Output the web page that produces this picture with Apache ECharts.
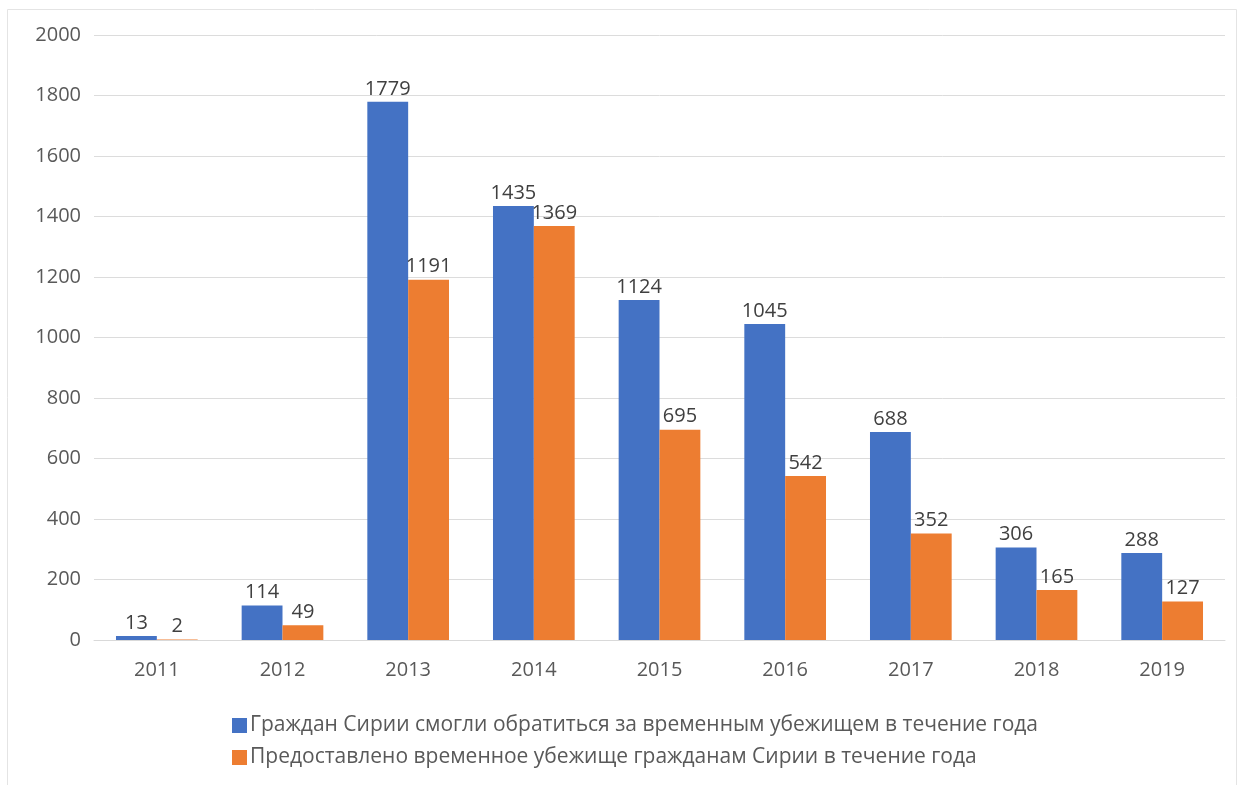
<!DOCTYPE html>
<html><head><meta charset="utf-8">
<script src="https://cdn.jsdelivr.net/npm/echarts@6/dist/echarts.min.js"></script>
<style>html,body{margin:0;padding:0;background:#fff}#c{width:1240px;height:785px}</style>
</head><body><div id="c"></div>
<script>
const categories = ['2011','2012','2013','2014','2015','2016','2017','2018','2019'];
const appliedValues = [13,114,1779,1435,1124,1045,688,306,288];
const grantedValues = [2,49,1191,1369,695,542,352,165,127];
const seriesNames = ['Граждан Сирии смогли обратиться за временным убежищем в течение года','Предоставлено временное убежище гражданам Сирии в течение года'];
const yTicks = {min:0,max:2000,interval:200};

const chart = echarts.init(document.getElementById('c'));
const font = '"Open Sans", "Noto Sans", sans-serif';
const lbl = {show:true,position:'top',distance:3,color:'#404040',fontSize:20,fontFamily:font};
chart.setOption({
  backgroundColor:'#fff',
  animation:false,
  graphic:[{type:'rect',shape:{x:7.5,y:9.5,width:1229,height:790},style:{fill:'none',stroke:'#e4e4e4',lineWidth:1}}],
  grid:{left:94,right:15,top:35,bottom:145},
  legend:{orient:'vertical',left:227,top:710,itemWidth:15,itemHeight:15,itemGap:11,
    icon:'rect',textStyle:{color:'#595959',fontSize:21,fontFamily:font,padding:[0,0,0,-2]},
    data:seriesNames},
  xAxis:{type:'category',data:categories,
    axisLine:{lineStyle:{color:'#d9d9d9'}},axisTick:{show:false},
    axisLabel:{color:'#595959',fontSize:20,fontFamily:font,margin:20}},
  yAxis:{type:'value',min:yTicks.min,max:yTicks.max,interval:yTicks.interval,
    axisLine:{show:false},axisTick:{show:false},
    splitLine:{lineStyle:{color:'#dcdcdc',width:1}},
    axisLabel:{color:'#595959',fontSize:20,fontFamily:font,margin:13,align:'right',formatter:v=>String(v)}},
  series:[
    {name:seriesNames[0],type:'bar',data:appliedValues,barGap:'0%',barCategoryGap:'35%',
     itemStyle:{color:'#4472c4'},label:lbl},
    {name:seriesNames[1],type:'bar',data:grantedValues,barGap:'0%',barCategoryGap:'35%',
     itemStyle:{color:'#ed7d31'},label:lbl}
  ]
});
</script></body></html>
